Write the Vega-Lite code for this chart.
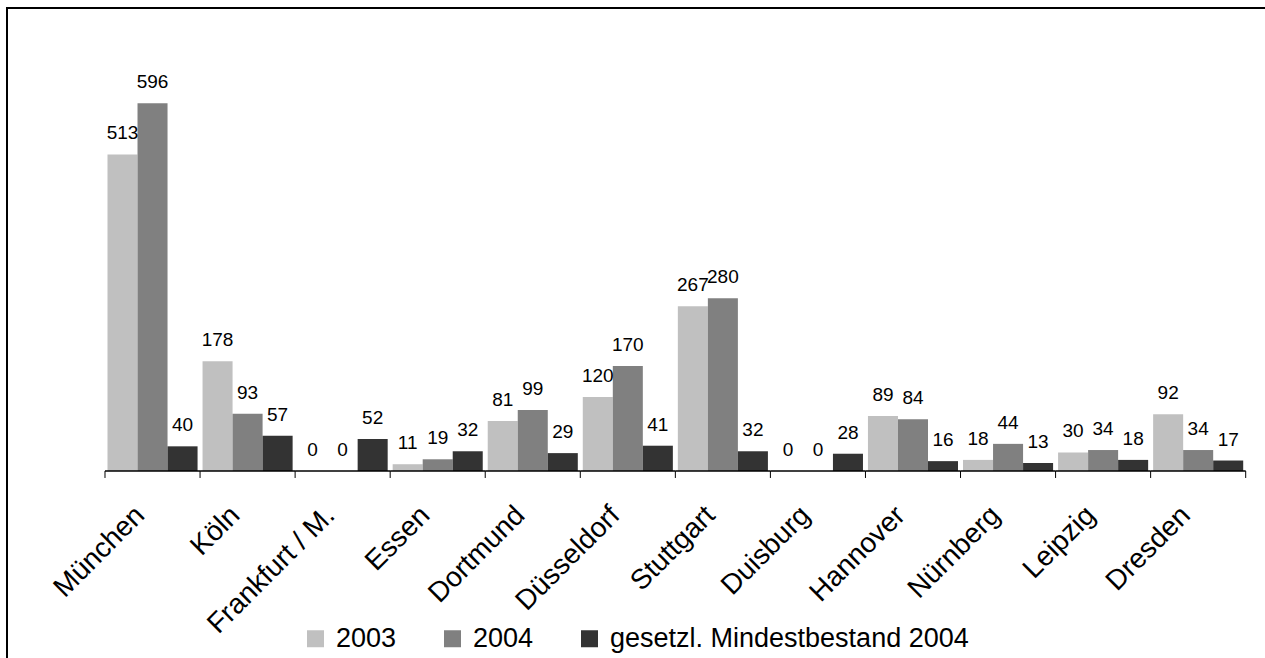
{
  "$schema": "https://vega.github.io/schema/vega-lite/v6.json",
  "autosize": "none",
  "padding": {"left": 7, "top": 8, "right": 0, "bottom": 0},
  "width": 1265,
  "height": 652,
  "background": "white",
  "config": {
    "view": {"stroke": "black", "strokeWidth": 2},
    "font": "Liberation Sans"
  },
  "data": {
    "values": [
      {"city": "München", "series": "2003", "value": 513},
      {"city": "München", "series": "2004", "value": 596},
      {"city": "München", "series": "gesetzl. Mindestbestand 2004", "value": 40},
      {"city": "Köln", "series": "2003", "value": 178},
      {"city": "Köln", "series": "2004", "value": 93},
      {"city": "Köln", "series": "gesetzl. Mindestbestand 2004", "value": 57},
      {"city": "Frankfurt / M.", "series": "2003", "value": 0},
      {"city": "Frankfurt / M.", "series": "2004", "value": 0},
      {"city": "Frankfurt / M.", "series": "gesetzl. Mindestbestand 2004", "value": 52},
      {"city": "Essen", "series": "2003", "value": 11},
      {"city": "Essen", "series": "2004", "value": 19},
      {"city": "Essen", "series": "gesetzl. Mindestbestand 2004", "value": 32},
      {"city": "Dortmund", "series": "2003", "value": 81},
      {"city": "Dortmund", "series": "2004", "value": 99},
      {"city": "Dortmund", "series": "gesetzl. Mindestbestand 2004", "value": 29},
      {"city": "Düsseldorf", "series": "2003", "value": 120},
      {"city": "Düsseldorf", "series": "2004", "value": 170},
      {"city": "Düsseldorf", "series": "gesetzl. Mindestbestand 2004", "value": 41},
      {"city": "Stuttgart", "series": "2003", "value": 267},
      {"city": "Stuttgart", "series": "2004", "value": 280},
      {"city": "Stuttgart", "series": "gesetzl. Mindestbestand 2004", "value": 32},
      {"city": "Duisburg", "series": "2003", "value": 0},
      {"city": "Duisburg", "series": "2004", "value": 0},
      {"city": "Duisburg", "series": "gesetzl. Mindestbestand 2004", "value": 28},
      {"city": "Hannover", "series": "2003", "value": 89},
      {"city": "Hannover", "series": "2004", "value": 84},
      {"city": "Hannover", "series": "gesetzl. Mindestbestand 2004", "value": 16},
      {"city": "Nürnberg", "series": "2003", "value": 18},
      {"city": "Nürnberg", "series": "2004", "value": 44},
      {"city": "Nürnberg", "series": "gesetzl. Mindestbestand 2004", "value": 13},
      {"city": "Leipzig", "series": "2003", "value": 30},
      {"city": "Leipzig", "series": "2004", "value": 34},
      {"city": "Leipzig", "series": "gesetzl. Mindestbestand 2004", "value": 18},
      {"city": "Dresden", "series": "2003", "value": 92},
      {"city": "Dresden", "series": "2004", "value": 34},
      {"city": "Dresden", "series": "gesetzl. Mindestbestand 2004", "value": 17}
    ]
  },
  "encoding": {
    "x": {
      "field": "city",
      "type": "nominal",
      "sort": null,
      "scale": {"paddingInner": 0, "paddingOuter": 0.6538, "align": 0.7884},
      "axis": {
        "title": null,
        "domain": false,
        "ticks": false,
        "offset": -189,
        "labelAngle": 315,
        "labelFontSize": 28,
        "labelColor": "black",
        "labelPadding": 30,
        "labelOffset": -22,
        "labelLimit": 400
      }
    }
  },
  "layer": [
    {
      "mark": {"type": "bar"},
      "encoding": {
        "xOffset": {
          "field": "series",
          "type": "nominal",
          "scale": {"paddingInner": 0, "paddingOuter": 0.083}
        },
        "y": {
          "field": "value",
          "type": "quantitative",
          "scale": {"domain": [-306.3, 750.4], "nice": false, "zero": false},
          "axis": null
        },
        "y2": {"datum": 0},
        "color": {
          "field": "series",
          "type": "nominal",
          "scale": {
            "domain": ["2003", "2004", "gesetzl. Mindestbestand 2004"],
            "range": ["#c0c0c0", "#808080", "#333333"]
          },
          "legend": {
            "title": null,
            "orient": "none",
            "direction": "horizontal",
            "legendX": 295,
            "legendY": 617,
            "symbolType": "square",
            "symbolSize": 289,
            "symbolStrokeWidth": 0,
            "labelFontSize": 27,
            "labelColor": "black",
            "labelOffset": 7,
            "columnPadding": 42,
            "labelLimit": 500
          }
        }
      }
    },
    {
      "mark": {"type": "text", "fontSize": 19, "color": "black", "baseline": "alphabetic", "dy": -15},
      "encoding": {
        "xOffset": {"field": "series", "type": "nominal"},
        "y": {"field": "value", "type": "quantitative"},
        "text": {"field": "value", "type": "quantitative"}
      }
    },
    {
      "transform": [{"filter": "datum.series == '2003'"}],
      "mark": {"type": "rule", "color": "black", "strokeWidth": 1.5},
      "encoding": {
        "x": {"field": "city", "type": "nominal", "bandPosition": 0},
        "x2": {"field": "city", "bandPosition": 1},
        "y": {"datum": 0}
      }
    },
    {
      "transform": [{"filter": "datum.series == '2003'"}],
      "mark": {"type": "rule", "color": "black", "strokeWidth": 1},
      "encoding": {
        "x": {"field": "city", "type": "nominal", "bandPosition": 0},
        "y": {"datum": 0},
        "y2": {"datum": -11.3}
      }
    },
    {
      "transform": [{"filter": "datum.series == '2003' && datum.city == 'Dresden'"}],
      "mark": {"type": "rule", "color": "black", "strokeWidth": 1},
      "encoding": {
        "x": {"field": "city", "type": "nominal", "bandPosition": 1},
        "y": {"datum": 0},
        "y2": {"datum": -11.3}
      }
    }
  ]
}
